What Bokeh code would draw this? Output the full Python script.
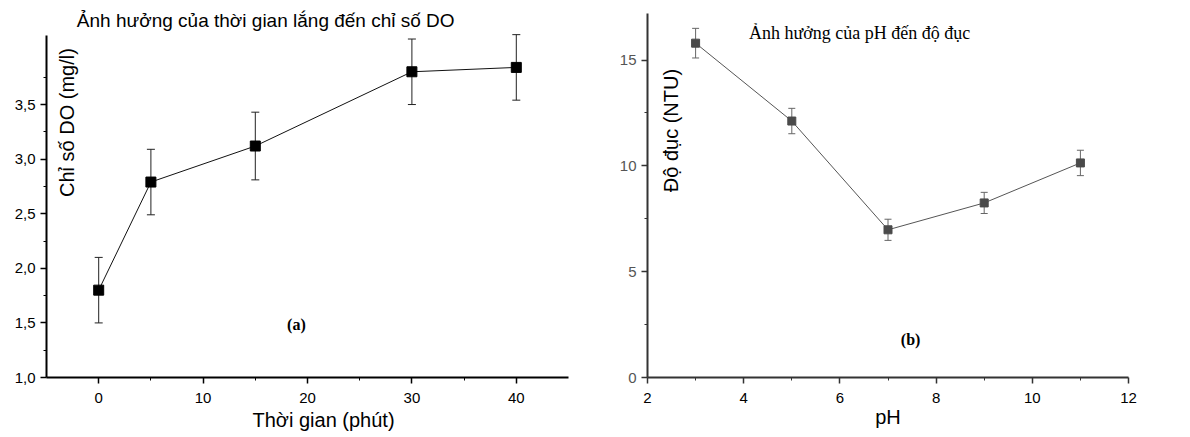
import math
from bokeh.plotting import figure
from bokeh.models import Range1d, FixedTicker, Whisker, ColumnDataSource, Label, TeeHead, Title
from bokeh.layouts import row
from bokeh.embed import file_html
from bokeh.resources import INLINE

# ---------------- Panel (a) data ----------------
time_min = [0, 5, 15, 30, 40]
do_mgl = [1.80, 2.79, 3.12, 3.80, 3.84]
do_err = [0.30, 0.30, 0.31, 0.30, 0.30]
a_xticks = [0, 10, 20, 30, 40]
a_xminor = [5, 15, 25, 35]
a_yticks = [1.0, 1.5, 2.0, 2.5, 3.0, 3.5]
a_ytick_labels = ["1,0", "1,5", "2,0", "2,5", "3,0", "3,5"]
a_yminor = [1.25, 1.75, 2.25, 2.75, 3.25, 3.75]
a_title = "Ảnh hưởng của thời gian lắng đến chỉ số DO"
a_xlabel = "Thời gian (phút)"
a_ylabel = "Chỉ số DO (mg/l)"
a_tag = "(a)"

# ---------------- Panel (b) data ----------------
ph = [3, 5, 7, 9, 11]
ntu = [15.80, 12.12, 6.98, 8.25, 10.14]
ntu_err = [0.70, 0.60, 0.50, 0.50, 0.60]
b_xticks = [2, 4, 6, 8, 10, 12]
b_xminor = [3, 5, 7, 9, 11]
b_yticks = [0, 5, 10, 15]
b_yminor = [2.5, 7.5, 12.5]
b_title = "Ảnh hưởng của pH đến độ đục"
b_xlabel = "pH"
b_ylabel = "Độ đục (NTU)"
b_tag = "(b)"

SANS = "Liberation Sans"
SERIF = "Liberation Serif"


def style_axes(p, xt, xm, yt, ym, axis_color, ytick_color, xtick_color):
    p.xaxis.ticker = FixedTicker(ticks=xt, minor_ticks=xm)
    p.yaxis.ticker = FixedTicker(ticks=yt, minor_ticks=ym)
    for ax in (p.xaxis[0], p.yaxis[0]):
        ax.axis_line_color = axis_color
        ax.axis_line_width = 2
        ax.major_tick_line_color = axis_color
        ax.minor_tick_line_color = axis_color
        ax.major_tick_line_width = 1.5
        ax.minor_tick_line_width = 1
        ax.major_tick_out = 6
        ax.major_tick_in = 0
        ax.minor_tick_out = 3
        ax.minor_tick_in = 0
        ax.major_label_text_font = SANS
        ax.major_label_text_font_size = "15px"
        ax.axis_label_text_font = SANS
        ax.axis_label_text_font_style = "normal"
        ax.axis_label_text_font_size = "20px"
        ax.axis_label_text_color = "black"
    p.yaxis.major_label_text_color = ytick_color
    p.xaxis.major_label_text_color = xtick_color
    p.xaxis.major_label_standoff = 9
    p.yaxis.major_label_standoff = 5
    p.grid.visible = False
    p.outline_line_color = None
    p.background_fill_color = "white"
    p.border_fill_color = "white"


# ---------------- Panel (a) ----------------
pa = figure(width=590, height=437, x_range=Range1d(-5, 45), y_range=Range1d(1.0, 4.407),
            output_backend="svg", toolbar_location=None,
            min_border_left=46, min_border_right=22, min_border_top=5, min_border_bottom=60)
style_axes(pa, a_xticks, a_xminor, a_yticks, a_yminor, "black", "black", "black")
pa.yaxis.major_label_overrides = {t: s for t, s in zip(a_yticks, a_ytick_labels)}
pa.yaxis.bounds = (1.0, 4.13)
pa.add_layout(Title(text=a_xlabel, align="left", offset=206, standoff=3,
                    text_font=SANS, text_font_size="20px", text_font_style="normal",
                    text_color="black"), "below")

src_a = ColumnDataSource(dict(x=time_min, y=do_mgl,
                              upper=[m + e for m, e in zip(do_mgl, do_err)],
                              lower=[m - e for m, e in zip(do_mgl, do_err)]))
pa.add_layout(Whisker(source=src_a, base="x", upper="upper", lower="lower", dimension="height",
                      line_color="#222222", line_width=1,
                      upper_head=TeeHead(size=8, line_color="#222222", line_width=1),
                      lower_head=TeeHead(size=8, line_color="#222222", line_width=1)))
pa.line("x", "y", source=src_a, line_color="#111111", line_width=1)
pa.scatter("x", "y", source=src_a, marker="square", size=10, fill_color="black", line_color="black")

pa.add_layout(Label(x=16.0, y=4.269, text=a_title, text_align="center", text_baseline="middle",
                    text_font=SANS, text_font_size="19px", text_color="black"))
pa.add_layout(Label(x=-3.0, y=3.335, text=a_ylabel, angle=math.pi / 2, text_align="center",
                    text_baseline="middle", text_font=SANS, text_font_size="20px", text_color="black"))
pa.add_layout(Label(x=18.94, y=1.485, text=a_tag, text_align="center", text_baseline="middle",
                    text_font=SERIF, text_font_style="bold", text_font_size="16px", text_color="black"))

# ---------------- Panel (b) ----------------
pb = figure(width=592, height=437, x_range=Range1d(2, 12), y_range=Range1d(0, 17.58),
            output_backend="svg", toolbar_location=None,
            min_border_left=57, min_border_right=54, min_border_top=5, min_border_bottom=60)
style_axes(pb, b_xticks, b_xminor, b_yticks, b_yminor, "#333333", "#555555", "black")
pb.yaxis.bounds = (0, 17.2)
pb.xaxis.axis_label = b_xlabel
pb.xaxis.axis_label_standoff = 0

src_b = ColumnDataSource(dict(x=ph, y=ntu,
                              upper=[m + e for m, e in zip(ntu, ntu_err)],
                              lower=[m - e for m, e in zip(ntu, ntu_err)]))
pb.add_layout(Whisker(source=src_b, base="x", upper="upper", lower="lower", dimension="height",
                      line_color="#666666", line_width=1,
                      upper_head=TeeHead(size=7, line_color="#666666", line_width=1),
                      lower_head=TeeHead(size=7, line_color="#666666", line_width=1)))
pb.line("x", "y", source=src_b, line_color="#555555", line_width=1)
pb.scatter("x", "y", source=src_b, marker="square", size=8, fill_color="#4a4a4a", line_color="#4a4a4a")

pb.add_layout(Label(x=6.41, y=16.26, text=b_title, text_align="center", text_baseline="middle",
                    text_font=SERIF, text_font_size="18px", text_color="black"))
pb.add_layout(Label(x=2.48, y=11.67, text=b_ylabel, angle=math.pi / 2, text_align="center",
                    text_baseline="middle", text_font=SANS, text_font_size="20px", text_color="black"))
pb.add_layout(Label(x=7.47, y=1.80, text=b_tag, text_align="center", text_baseline="middle",
                    text_font=SERIF, text_font_style="bold", text_font_size="16px", text_color="black"))

layout = row(pa, pb, spacing=0)
open("out.html", "w").write(file_html(layout, INLINE))
